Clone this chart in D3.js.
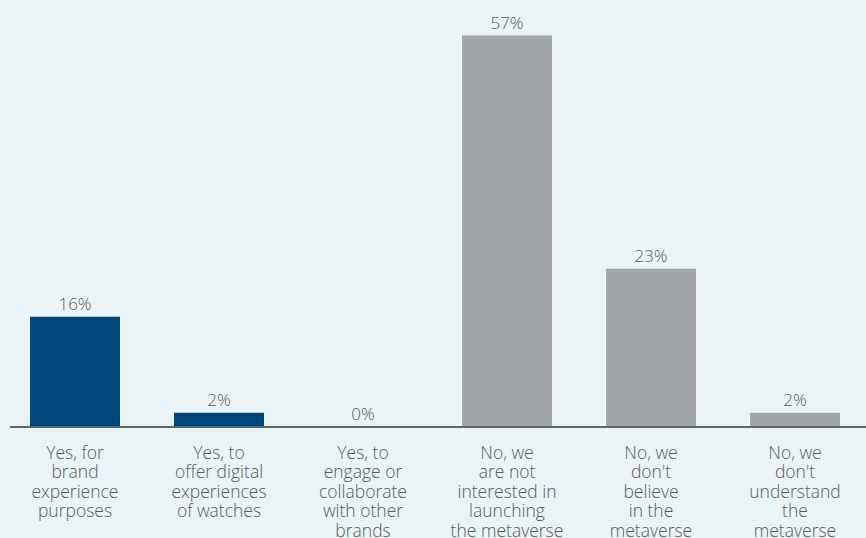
<!DOCTYPE html>
<html>
<head>
<meta charset="utf-8">
<script src="https://cdn.jsdelivr.net/npm/d3@7"></script>
<style>
  html, body { margin: 0; padding: 0; background: #eaf3f6; }
  svg { display: block; }
</style>
</head>
<body>
<div id="chart"></div>
<script>
// answers and their share (%)
const categories = ['yes_brand', 'yes_digital', 'yes_collab', 'no_interest', 'no_believe', 'no_understand'];
const values = [16, 2, 0, 57, 23, 2];
const labelLines = [
  ['Yes, for', 'brand', 'experience', 'purposes'],
  ['Yes, to', 'offer digital', 'experiences', 'of watches'],
  ['Yes, to', 'engage or', 'collaborate', 'with other', 'brands'],
  ['No, we', 'are not', 'interested in', 'launching', 'the metaverse'],
  ['No, we', "don't", 'believe', 'in the', 'metaverse'],
  ['No, we', "don't", 'understand', 'the', 'metaverse']
];
const groups = ['yes', 'yes', 'yes', 'no', 'no', 'no'];

const width = 866, height = 538;
const baseY = 426.5;

const svg = d3.select('#chart')
  .append('svg')
    .attr('width', width)
    .attr('height', height);

svg.append('rect')
  .attr('width', width)
  .attr('height', height)
  .attr('fill', '#eaf3f6');

const x = d3.scaleBand()
  .domain(categories)
  .range([3, 867])
  .paddingInner(0.375)
  .paddingOuter(0.1875);

const y = d3.scaleLinear()
  .domain([0, 57])
  .range([baseY, 35.5]);

const color = d3.scaleOrdinal()
  .domain(['yes', 'no'])
  .range(['#00477a', '#a3a6a9']);

const data = categories.map((c, i) => ({cat: c, value: values[i], group: groups[i], lines: labelLines[i]}));

// bars
svg.append('g')
  .selectAll('rect')
  .data(data)
  .join('rect')
    .attr('x', d => x(d.cat))
    .attr('y', d => y(d.value))
    .attr('width', x.bandwidth())
    .attr('height', d => baseY - y(d.value))
    .attr('fill', d => color(d.group));

// baseline
svg.append('line')
  .attr('x1', 10)
  .attr('x2', width)
  .attr('y1', baseY + 0.5)
  .attr('y2', baseY + 0.5)
  .attr('stroke', '#5f666b')
  .attr('stroke-width', 2);

// value labels
svg.append('g')
  .attr('font-family', '"Open Sans", sans-serif')
  .attr('font-weight', 300)
  .attr('font-size', 17)
  .attr('fill', '#5a5a5a')
  .attr('text-anchor', 'middle')
  .selectAll('text')
  .data(data)
  .join('text')
    .attr('x', d => x(d.cat) + x.bandwidth() / 2)
    .attr('y', d => y(d.value) - 6.5)
    .text(d => d.value + '%');

// category labels
const cat = svg.append('g')
  .attr('font-family', '"Open Sans", sans-serif')
  .attr('font-weight', 300)
  .attr('font-size', 17.5)
  .attr('fill', '#5a5a5a')
  .attr('text-anchor', 'middle')
  .selectAll('text')
  .data(data)
  .join('text')
    .attr('x', d => x(d.cat) + x.bandwidth() / 2)
    .attr('y', 458.5);

cat.selectAll('tspan')
  .data(d => d.lines.map(l => ({l, cx: x(d.cat) + x.bandwidth() / 2})))
  .join('tspan')
    .attr('x', d => d.cx)
    .attr('dy', (d, i) => i === 0 ? 0 : 19.5)
    .text(d => d.l);
</script>
</body>
</html>
